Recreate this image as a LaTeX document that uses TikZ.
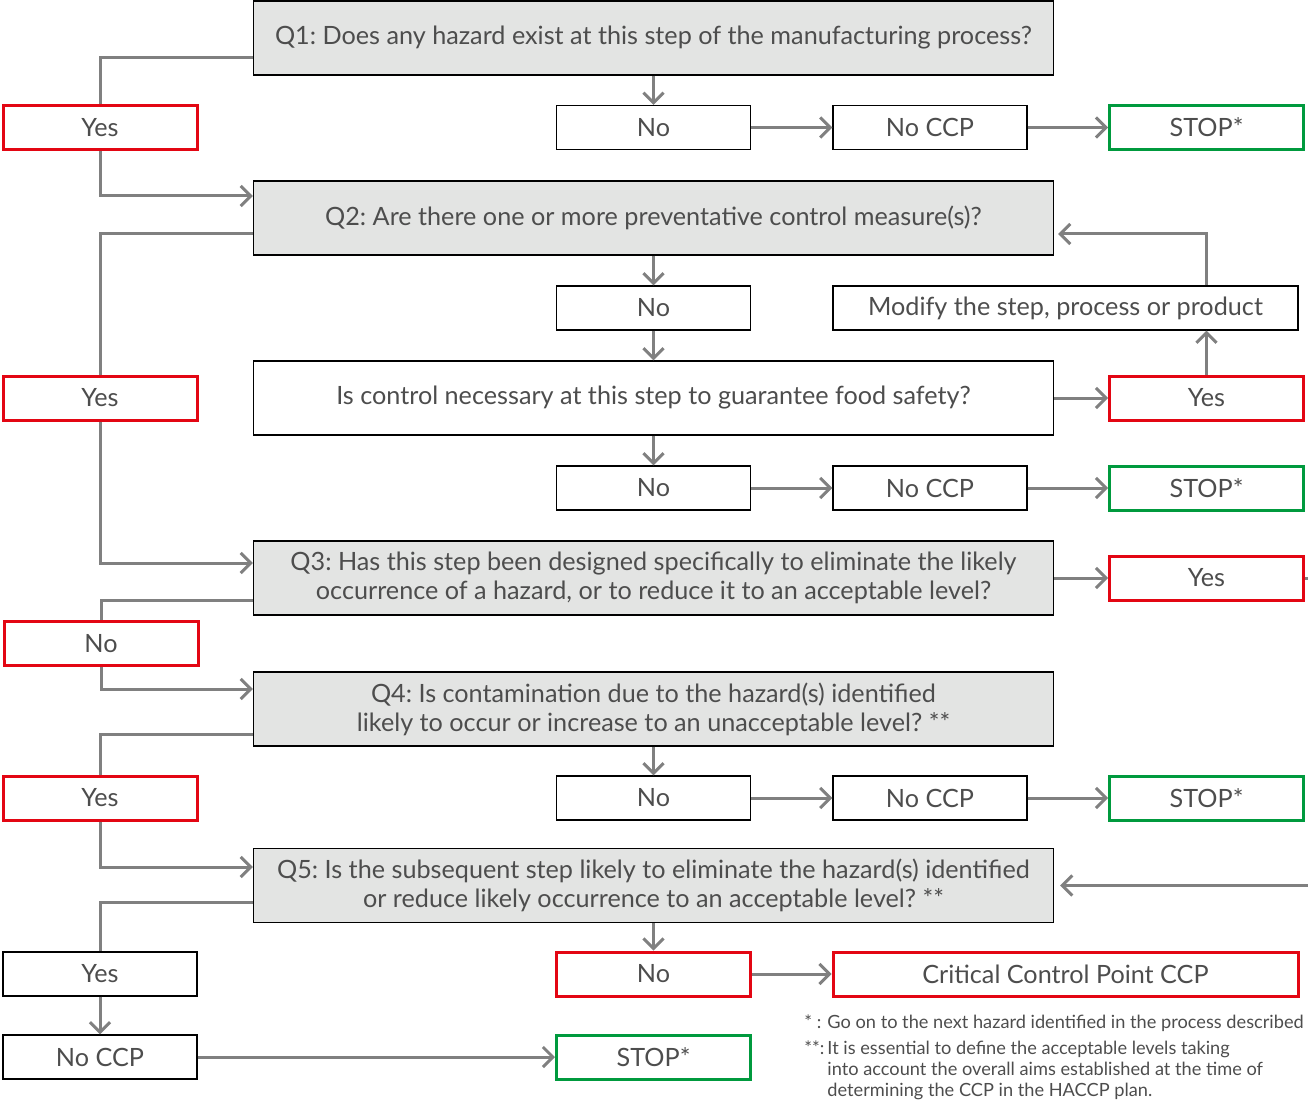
\documentclass[tikz,border=0pt]{standalone}
\usepackage{fontspec}
\setmainfont{Lato}
\usetikzlibrary{arrows.meta, positioning}
\frenchspacing

\definecolor{haccpred}{HTML}{E30613}
\definecolor{haccpgreen}{HTML}{009A3E}
\definecolor{qfill}{HTML}{E3E4E3}
\definecolor{linegray}{HTML}{808080}
\definecolor{textgray}{HTML}{4D4D4D}

\begin{document}
\begin{tikzpicture}[x=0.5pt, y=-0.5pt,
    box/.style={draw=black, line width=0.7pt, minimum width=97pt, minimum height=22pt,
      inner sep=0pt, text=textgray, font=\fontsize{12.6}{14.5}\selectfont},
    redbox/.style={box, draw=haccpred, line width=1.5pt},
    greenbox/.style={box, draw=haccpgreen, line width=1.5pt},
    widebox/.style={box, minimum width=232.5pt},
    question/.style={box, fill=qfill, minimum width=400pt, minimum height=37pt, align=center},
    line/.style={draw=linegray, line width=1.5pt},
    arr/.style={line, -{Straight Barb[length=5pt,width=10pt]}}]
  \useasboundingbox (0,0) rectangle (1308,1102);

  % Q1
  \node[question] (q1) at (653.5,38) {Q1: Does any hazard exist at this step of the manufacturing process?};
  \node[redbox] (yes1) at (100,127.5) {Yes};
  \node[box] (no1) at (653.5,127.5) {No};
  \node[box] (noccp1) at (930,127.5) {No CCP};
  \node[greenbox] (stop1) at (1206.5,127.5) {STOP*};

  % Q2
  \node[question] (q2) at (653.5,218) {Q2: Are there one or more preventative control measure(s)?};
  \node[box] (no2) at (653.5,308) {No};
  \node[widebox] (modify) at (1065.5,308) {Modify the step, process or product};
  \node[redbox] (yes2) at (100,398) {Yes};
  \node[question, fill=white] (ctrl) at (653.5,398) {Is control necessary at this step to guarantee food safety?};
  \node[redbox] (yesc) at (1206.5,398) {Yes};
  \node[box] (no3) at (653.5,488) {No};
  \node[box] (noccp3) at (930,488) {No CCP};
  \node[greenbox] (stop3) at (1206.5,488) {STOP*};

  % Q3
  \node[question] (q3) at (653.5,578) {Q3: Has this step been designed specifically to eliminate the likely\\occurrence of a hazard, or to reduce it to an acceptable level?};
  \node[redbox] (yes3) at (1206.5,578) {Yes};
  \coordinate (out3) at (1330,578);
  \node[redbox] (no4) at (101,643.5) {No};

  % Q4
  \node[question] (q4) at (653.5,709) {Q4: Is contamination due to the hazard(s) identified\\likely to occur or increase to an unacceptable level? **};
  \node[redbox] (yes4) at (100,798) {Yes};
  \node[box] (no5) at (653.5,798) {No};
  \node[box] (noccp5) at (930,798) {No CCP};
  \node[greenbox] (stop5) at (1206.5,798) {STOP*};

  % Q5
  \node[question] (q5) at (653.5,885.5) {Q5: Is the subsequent step likely to eliminate the hazard(s) identified\\or reduce likely occurrence to an acceptable level? **};
  \coordinate (in5) at (1330,885.5);
  \node[box] (yes5) at (100,974) {Yes};
  \node[redbox] (no6) at (653.5,974) {No};
  \node[widebox, draw=haccpred, line width=1.5pt] (ccp) at (1065.5,974) {Critical Control Point CCP};
  \node[box] (noccp6) at (100,1057) {No CCP};
  \node[greenbox] (stop6) at (653.5,1057) {STOP*};

  % notes
  \node[anchor=north west, inner sep=0pt, text=textgray, font=\fontsize{9.1}{10.6}\selectfont] (notes) at (804,1013)
    {\begin{tabular}{@{}l@{\,}l@{}}
      * :& Go on to the next hazard identified in the process described\\[2.5pt]
      **:& It is essential to define the acceptable levels taking\\
         & into account the overall aims established at the time of\\
         & determining the CCP in the HACCP plan.
    \end{tabular}};

  % connectors
  \draw[line] ([yshift=-10pt]q1.west) -| (yes1);
  \draw[arr] (yes1) |- ([yshift=11pt]q2.west);
  \draw[arr] (q1) -- (no1);
  \draw[arr] (no1) -- (noccp1);
  \draw[arr] (noccp1) -- (stop1);

  \draw[line] ([yshift=-8pt]q2.west) -| (yes2);
  \draw[arr] (q2) -- (no2);
  \draw[arr] (no2) -- (ctrl);
  \draw[arr] (ctrl) -- (yesc);
  \draw[arr] (yesc) -- (modify.south -| yesc);
  \draw[arr, shorten >=2pt] (modify.north -| yesc) |- ([yshift=-8pt]q2.east);
  \draw[arr] (ctrl) -- (no3);
  \draw[arr] (no3) -- (noccp3);
  \draw[arr] (noccp3) -- (stop3);

  \draw[arr] (yes2) |- ([yshift=7.5pt]q3.west);
  \draw[arr] (q3) -- (yes3);
  \draw[line] (yes3) -- (out3);
  \draw[line] ([yshift=-11pt]q3.west) -| (no4);
  \draw[arr] (no4) |- ([yshift=10pt]q4.west);

  \draw[line] ([yshift=-12.5pt]q4.west) -| (yes4);
  \draw[arr] (q4) -- (no5);
  \draw[arr] (no5) -- (noccp5);
  \draw[arr] (noccp5) -- (stop5);
  \draw[arr] (yes4) |- ([yshift=9.25pt]q5.west);

  \draw[arr, shorten >=3pt] (in5) -- (q5);
  \draw[line] ([yshift=-8.25pt]q5.west) -| (yes5);
  \draw[arr] (q5) -- (no6);
  \draw[arr] (no6) -- (ccp);
  \draw[arr] (yes5) -- (noccp6);
  \draw[arr] (noccp6) -- (stop6);
\end{tikzpicture}
\end{document}
